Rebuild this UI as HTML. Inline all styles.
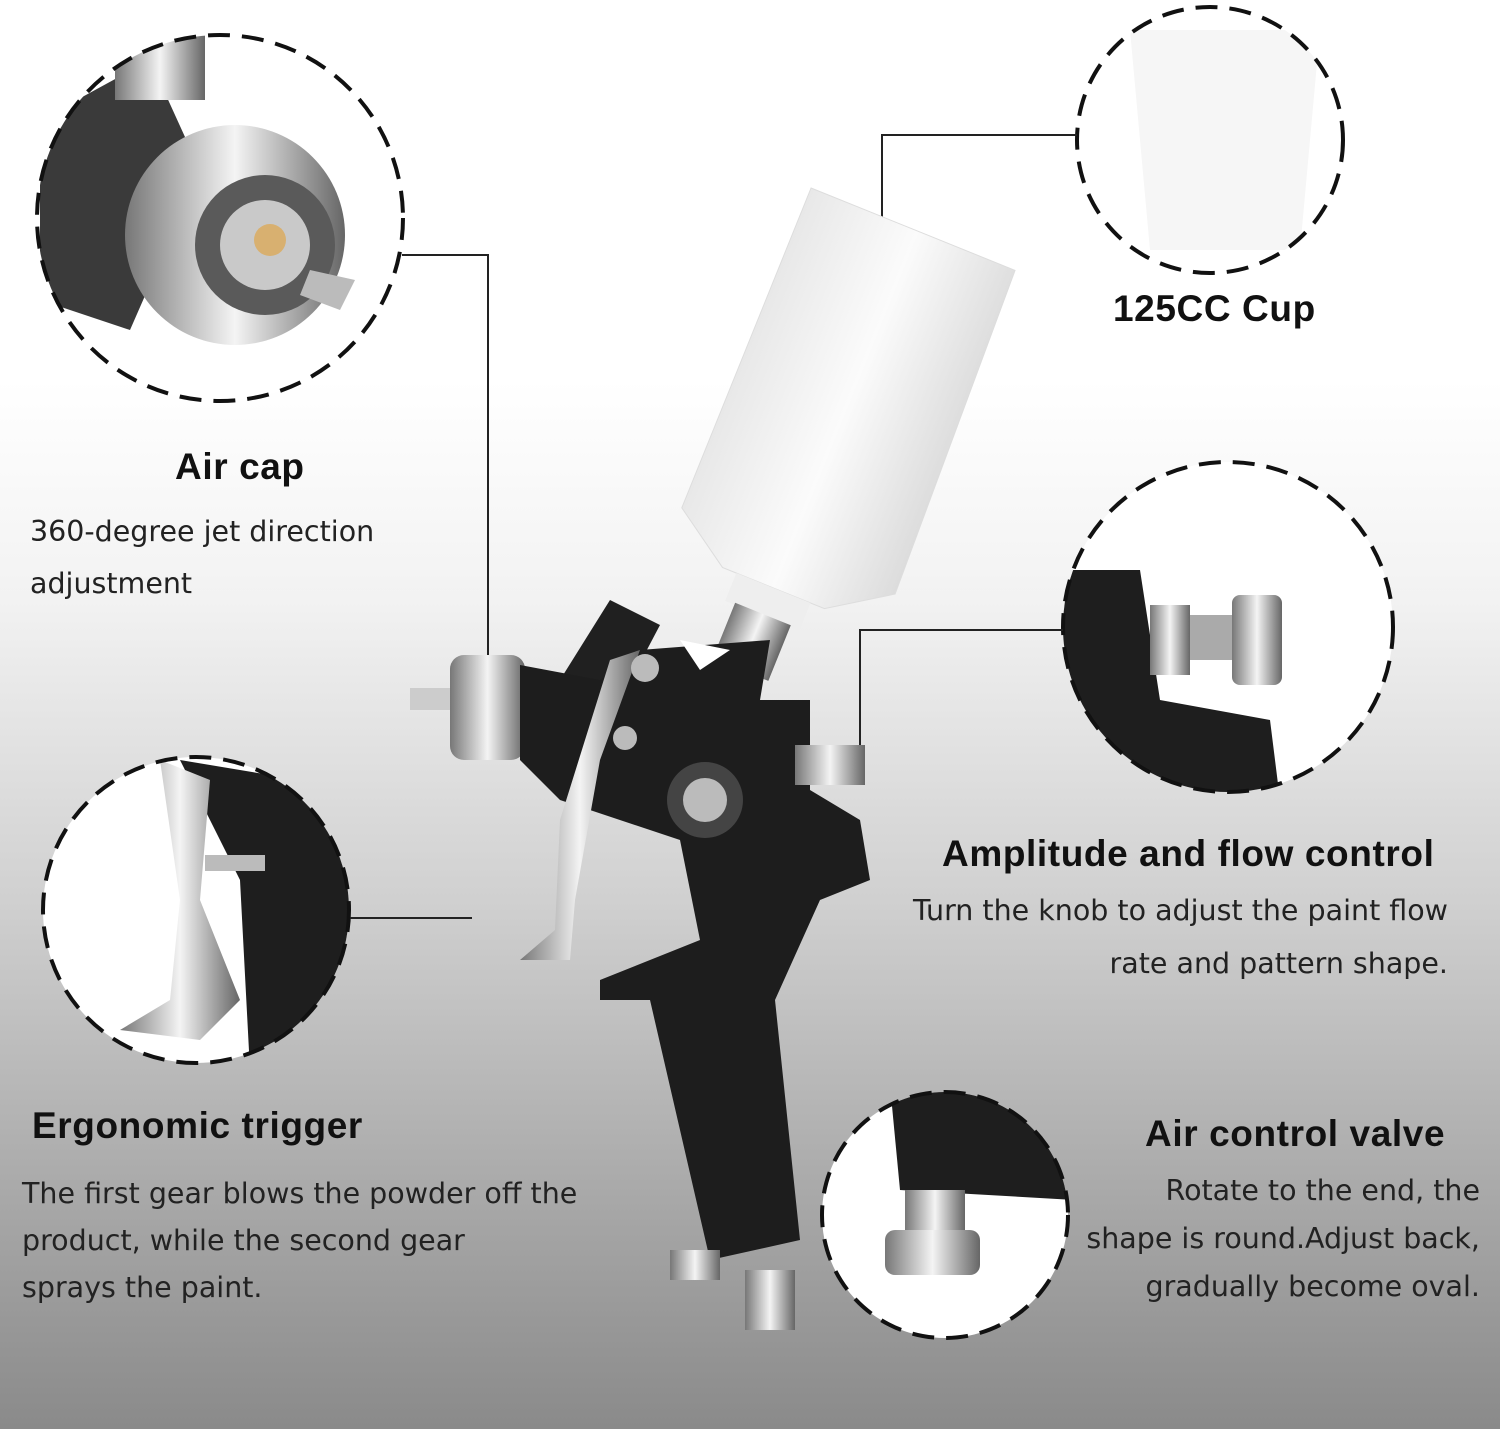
<!DOCTYPE html>
<html><head><meta charset="utf-8"><style>
html,body{margin:0;padding:0}
body{width:1500px;height:1429px;position:relative;overflow:hidden;font-family:"Liberation Sans","DejaVu Sans",sans-serif;
background:linear-gradient(to bottom,#ffffff 0px,#ffffff 380px,#f2f2f2 600px,#d0d0d0 900px,#a8a8a8 1200px,#8a8a8a 1429px);}
.t{position:absolute;color:#111;white-space:nowrap}
.b{font-weight:bold;font-size:37px;letter-spacing:0.6px}
.n{font-family:"DejaVu Sans","Liberation Sans",sans-serif;font-size:28.5px;line-height:48px;color:#222}
svg{position:absolute;left:0;top:0}
</style></head><body>
<svg width="1500" height="1429" viewBox="0 0 1500 1429">
<defs>
<clipPath id="c1"><circle cx="220" cy="218" r="183"/></clipPath>
<clipPath id="c2"><circle cx="1210" cy="140" r="133"/></clipPath>
<clipPath id="c3"><circle cx="1228" cy="627" r="165"/></clipPath>
<clipPath id="c4"><circle cx="196" cy="910" r="153"/></clipPath>
<clipPath id="c5"><circle cx="945" cy="1215" r="123"/></clipPath>
<linearGradient id="cup" x1="0" x2="1"><stop offset="0" stop-color="#e8e8e8"/><stop offset="0.5" stop-color="#fbfbfb"/><stop offset="1" stop-color="#dcdcdc"/></linearGradient>
<linearGradient id="met" x1="0" x2="1"><stop offset="0" stop-color="#777"/><stop offset="0.5" stop-color="#f4f4f4"/><stop offset="1" stop-color="#666"/></linearGradient>
</defs>
<g clip-path="url(#c1)">
<rect x="30" y="30" width="380" height="380" fill="#fff"/>
<path d="M40 120 L150 60 L200 170 L130 330 L40 300Z" fill="#3a3a3a"/>
<rect x="115" y="30" width="90" height="70" fill="url(#met)"/>
<circle cx="235" cy="235" r="110" fill="url(#met)"/>
<circle cx="265" cy="245" r="70" fill="#5a5a5a"/>
<circle cx="265" cy="245" r="45" fill="#c9c9c9"/>
<circle cx="270" cy="240" r="16" fill="#d8b070"/>
<path d="M310 270 L355 280 L340 310 L300 295Z" fill="#bbb"/>
</g>
<g clip-path="url(#c2)"><rect x="1070" y="0" width="280" height="290" fill="#fff"/>
<path d="M1130 30 L1320 30 L1300 250 L1150 250Z" fill="#f6f6f6"/></g>
<g clip-path="url(#c3)"><rect x="1055" y="460" width="345" height="340" fill="#fff"/>
<path d="M1060 570 L1140 570 L1160 700 L1270 720 L1280 800 L1060 800Z" fill="#1e1e1e"/>
<rect x="1150" y="605" width="40" height="70" fill="url(#met)"/>
<rect x="1190" y="615" width="45" height="45" fill="#aaa"/>
<rect x="1232" y="595" width="50" height="90" rx="8" fill="url(#met)"/></g>
<g clip-path="url(#c4)"><rect x="35" y="750" width="325" height="320" fill="#fff"/>
<path d="M180 760 L360 790 L360 1070 L250 1070 L240 880Z" fill="#1e1e1e"/>
<path d="M160 760 L210 780 L200 900 L240 1000 L200 1040 L120 1030 L170 1000 L180 900Z" fill="url(#met)"/>
<rect x="205" y="855" width="60" height="16" fill="#bbb"/></g>
<g clip-path="url(#c5)"><rect x="815" y="1085" width="260" height="260" fill="#fff"/>
<path d="M890 1085 L1075 1085 L1075 1200 L900 1190Z" fill="#1e1e1e"/>
<rect x="905" y="1190" width="60" height="50" fill="url(#met)"/>
<rect x="885" y="1230" width="95" height="45" rx="10" fill="url(#met)"/></g>
<g fill="none" stroke="#111" stroke-width="4" stroke-dasharray="22 12">
<circle cx="220" cy="218" r="183"/>
<circle cx="1210" cy="140" r="133"/>
<circle cx="1228" cy="627" r="165"/>
<circle cx="196" cy="910" r="153"/>
<circle cx="945" cy="1215" r="123"/>
</g>
<g fill="none" stroke="#222" stroke-width="2">
<polyline points="402,255 488,255 488,700"/>
<polyline points="1077,135 882,135 882,232"/>
<polyline points="1063,630 860,630 860,765"/>
<polyline points="350,918 472,918"/>
</g>
<g transform="rotate(22 840 410)">
<path d="M730 215 L950 215 L960 560 L900 600 L790 600 L730 560Z" fill="url(#cup)" stroke="#ddd"/>
<rect x="805" y="600" width="80" height="30" fill="#eee"/>
<rect x="815" y="628" width="60" height="60" fill="url(#met)"/>
</g>
<path d="M560 680 L610 600 L660 625 L610 720Z" fill="#202020"/>
<rect x="410" y="688" width="40" height="22" fill="#ccc"/>
<rect x="450" y="655" width="75" height="105" rx="14" fill="url(#met)"/>
<path d="M520 665 L600 680 L640 650 L770 640 L760 700 L810 700 L810 790 L860 820 L870 880 L820 900 L775 1000 L800 1240 L710 1260 L650 1000 L600 1000 L600 980 L700 940 L680 840 L560 800 L520 760Z" fill="#1d1d1d"/>
<path d="M680 640 L700 670 L730 650 Z" fill="#fff"/>
<path d="M610 660 L640 650 L600 760 L575 900 L570 960 L520 960 L555 930 L560 820Z" fill="url(#met)"/>
<circle cx="645" cy="668" r="14" fill="#bbb"/>
<circle cx="625" cy="738" r="12" fill="#bbb"/>
<circle cx="705" cy="800" r="38" fill="#444"/><circle cx="705" cy="800" r="22" fill="#bbb"/>
<rect x="795" y="745" width="70" height="40" fill="url(#met)"/>
<rect x="670" y="1250" width="50" height="30" fill="url(#met)"/>
<rect x="745" y="1270" width="50" height="60" fill="url(#met)"/>
</svg>
<div class="t b" style="left:175px;top:446px">Air cap</div>
<div class="n t" style="left:30px;top:506px;line-height:52px">360-degree jet direction<br>adjustment</div>
<div class="t b" style="left:1113px;top:288px">125CC Cup</div>
<div class="t b" style="left:942px;top:833px">Amplitude and flow control</div>
<div class="n t" style="right:52px;top:884px;text-align:right;line-height:53px">Turn the knob to adjust the paint flow<br>rate and pattern shape.</div>
<div class="t b" style="left:32px;top:1105px">Ergonomic trigger</div>
<div class="n t" style="left:22px;top:1170px;line-height:47px">The first gear blows the powder off the<br>product, while the second gear<br>sprays the paint.</div>
<div class="t b" style="left:1145px;top:1113px">Air control valve</div>
<div class="n t" style="right:20px;top:1167px;text-align:right">Rotate to the end, the<br>shape is round.Adjust back,<br>gradually become oval.</div>
</body></html>
